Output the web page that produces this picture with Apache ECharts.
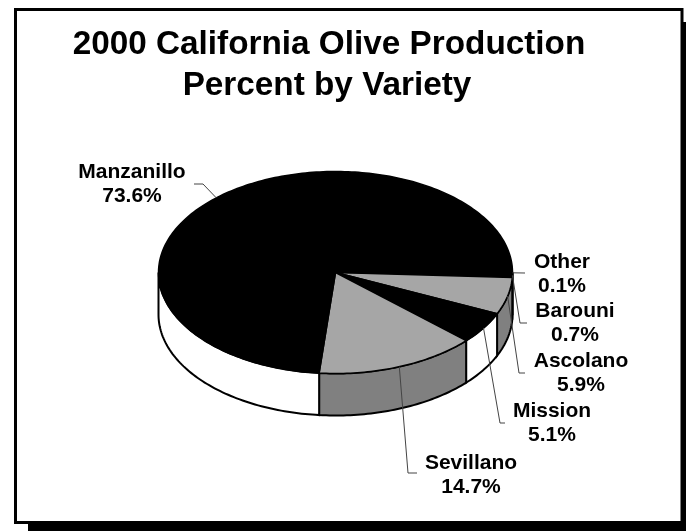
<!DOCTYPE html>
<html>
<head>
<meta charset="utf-8">
<style>html,body{margin:0;padding:0;background:#fff}#c{width:686px;height:531px}</style>
<script src="https://cdn.jsdelivr.net/npm/echarts@6/dist/echarts.min.js"></script>
</head>
<body>
<div id="c"></div>
<script>
// Data, clockwise from the 3 o'clock position
const varieties = ['Other', 'Barouni', 'Ascolano', 'Mission', 'Sevillano', 'Manzanillo'];
const percents = [0.1, 0.7, 5.9, 5.1, 14.7, 73.6];
const titleLines = ['2000 California Olive Production', 'Percent by Variety'];

// Styling
const topColors = ['#000000', '#000000', '#a6a6a6', '#000000', '#a6a6a6', '#000000'];
const sideColors = ['#ffffff', '#ffffff', '#808080', '#ffffff', '#808080', '#ffffff'];
const PIE = { cx: 335.5, cy: 272.5, rx: 177, ry: 101, depth: 42 };
const FONT = '"Liberation Sans", Arial, sans-serif';
// Label centres (layout only)
const labelBoxes = [
  { x: 562, y: 262 }, { x: 575, y: 311 }, { x: 581, y: 361 },
  { x: 552, y: 411 }, { x: 471, y: 463 }, { x: 132, y: 172 }
];
// Leader elbow points (layout only)
const leaderPaths = [
  [[525, 273]],
  [[520, 323], [527, 323]],
  [[519, 373], [525, 373]],
  [[500, 423], [505, 423]],
  [[408, 473], [417, 473]],
  [[203, 184], [194, 184]]
];

const total = percents.reduce((s, v) => s + v, 0);
const starts = [];
percents.reduce((acc, v, i) => { starts[i] = acc; return acc + v; }, 0);
const ang = p => (p / total) * Math.PI * 2;
const pt = (t, dy) => [PIE.cx + PIE.rx * Math.cos(t), PIE.cy + PIE.ry * Math.sin(t) + (dy || 0)];
function arc(t0, t1, dy) {
  const n = Math.max(2, Math.ceil((t1 - t0) / 0.02));
  const out = [];
  for (let k = 0; k <= n; k++) out.push(pt(t0 + (t1 - t0) * k / n, dy));
  return out;
}

function sideItem(params) {
  const i = params.dataIndex;
  const t0 = ang(starts[i]);
  const t1 = Math.min(ang(starts[i] + percents[i]), Math.PI);
  if (t0 >= Math.PI) return { type: 'group', children: [] };
  const poly = arc(t0, t1, 0).concat(arc(t0, t1, PIE.depth).reverse());
  return { type: 'polygon', shape: { points: poly },
    style: { fill: sideColors[i], stroke: '#000', lineWidth: 2 } };
}
function topItem(params) {
  const i = params.dataIndex;
  const t0 = ang(starts[i]);
  const t1 = ang(starts[i] + percents[i]);
  const poly = [[PIE.cx, PIE.cy]].concat(arc(t0, t1, 0));
  return { type: 'polygon', shape: { points: poly },
    style: { fill: topColors[i], stroke: '#000', lineWidth: 1.5 } };
}
function labelItem(params) {
  const i = params.dataIndex;
  const p = pt(ang(starts[i] + percents[i] / 2), 0);
  const b = labelBoxes[i];
  return { type: 'group', children: [
    { type: 'polyline', shape: { points: [p].concat(leaderPaths[i]) },
      style: { fill: 'none', stroke: '#444', lineWidth: 1 } },
    { type: 'text', style: { x: b.x, y: b.y, text: varieties[i], fill: '#000',
      font: 'bold 21px ' + FONT, align: 'center', verticalAlign: 'middle' } },
    { type: 'text', style: { x: b.x, y: b.y + 24, text: percents[i].toFixed(1) + '%', fill: '#000',
      font: 'bold 21px ' + FONT, align: 'center', verticalAlign: 'middle' } }
  ] };
}

const seriesData = percents.map((v, i) => ({ name: varieties[i], value: v }));
const chart = echarts.init(document.getElementById('c'), null, { renderer: 'canvas' });
chart.setOption({
  animation: false,
  backgroundColor: '#ffffff',
  graphic: [
    { type: 'rect', z: 0, silent: true, shape: { x: 28, y: 22, width: 658, height: 509 }, style: { fill: '#000' } },
    { type: 'rect', z: 1, silent: true, shape: { x: 15.5, y: 9.5, width: 666.5, height: 513 },
      style: { fill: '#fff', stroke: '#000', lineWidth: 3 } },
    { type: 'text', z: 2, silent: true, style: { x: 329, y: 45, text: titleLines[0], fill: '#000',
      font: 'bold 33.3px ' + FONT, align: 'center', verticalAlign: 'middle' } },
    { type: 'text', z: 2, silent: true, style: { x: 327, y: 86, text: titleLines[1], fill: '#000',
      font: 'bold 33.3px ' + FONT, align: 'center', verticalAlign: 'middle' } }
  ],
  series: [
    { type: 'custom', coordinateSystem: 'none', z: 3, silent: true, renderItem: sideItem, data: seriesData },
    { type: 'custom', coordinateSystem: 'none', z: 4, silent: true, renderItem: topItem, data: seriesData },
    { type: 'custom', coordinateSystem: 'none', z: 5, silent: true, renderItem: labelItem, data: seriesData }
  ]
});
</script>
</body>
</html>
